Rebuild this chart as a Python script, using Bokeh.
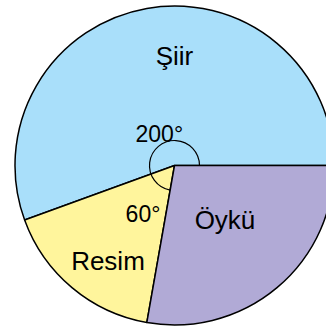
import math
from bokeh.plotting import figure
from bokeh.models import Range1d, ColumnDataSource
from bokeh.core.properties import value
from bokeh.embed import file_html
from bokeh.resources import INLINE

# Data
categories = ["Şiir", "Resim", "Öykü"]
angles_deg = [200, 60, 100]
angle_labels = ["200°", "60°"]

colors = ["#A9DFFA", "#FFF59C", "#B1AAD6"]

# Layout (wedges go counter-clockwise starting from 0°)
starts = []
ends = []
acc = 0.0
for a in angles_deg:
    starts.append(math.radians(acc))
    ends.append(math.radians(acc + a))
    acc += a

R = 159.5
CX, CY = 174, 165
# label placement (polar: angle deg, radius px)
label_polar = [(90, 110), (-125, 116), (-47, 74)]
angle_label_pos = [(-15.2, 31.7), (-31.5, -48.3)]

W, H = 326, 327
p = figure(width=W, height=H, output_backend="svg", toolbar_location=None,
           x_range=Range1d(-CX, W - CX), y_range=Range1d(-(H - CY), CY),
           min_border=0, outline_line_color=None)
p.axis.visible = False
p.grid.visible = False
p.background_fill_color = "white"
p.border_fill_color = "white"

src = ColumnDataSource(dict(x=[0] * 3, y=[0] * 3, start=starts, end=ends, color=colors))
p.wedge(x="x", y="y", radius=R, start_angle="start", end_angle="end",
        fill_color="color", line_color="black", line_width=1.5, source=src)

# angle arc covering Şiir + Resim
p.arc(x=0, y=0, radius=25, start_angle=0, end_angle=math.radians(angles_deg[0] + angles_deg[1]),
      line_color="black", line_width=1.2)

lx = [r * math.cos(math.radians(a)) for a, r in label_polar]
ly = [r * math.sin(math.radians(a)) for a, r in label_polar]
p.text(x=lx, y=ly, text=categories, text_font=value("Liberation Sans"),
       text_font_size="26px", text_align="center", text_baseline="middle", text_color="black")

p.text(x=[q[0] for q in angle_label_pos], y=[q[1] for q in angle_label_pos], text=angle_labels,
       text_font=value("Liberation Sans"), text_font_size="23px",
       text_align="center", text_baseline="alphabetic", text_color="black")

open("out.html", "w").write(file_html(p, INLINE))
